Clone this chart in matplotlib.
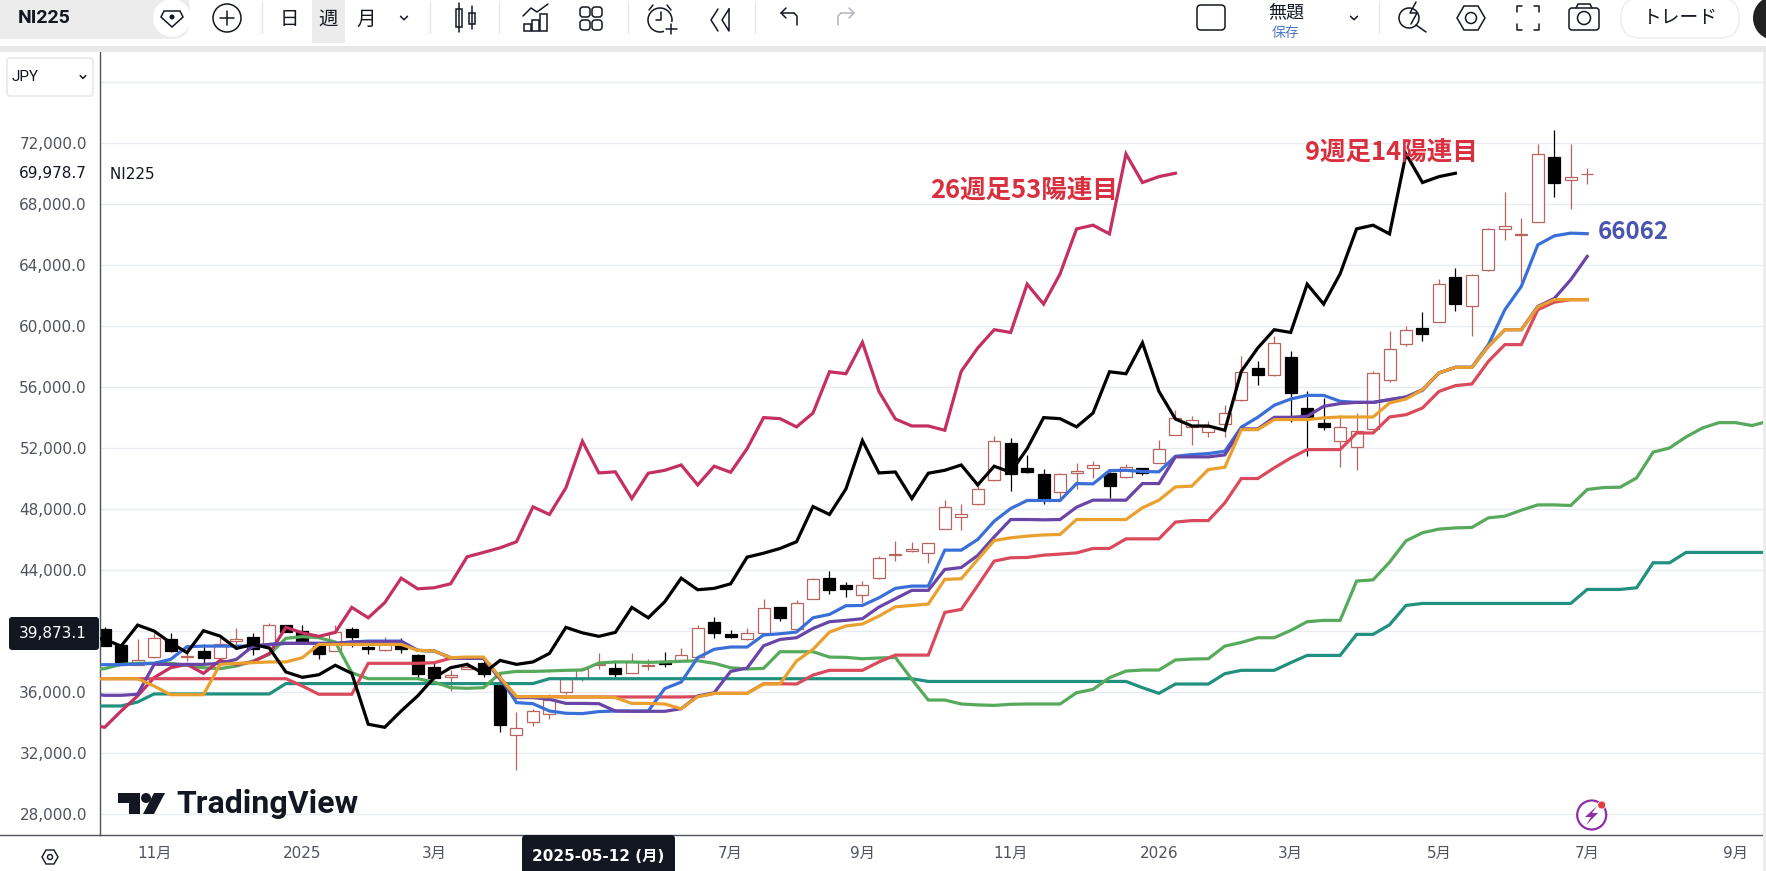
import matplotlib
matplotlib.use("Agg")
import matplotlib.pyplot as plt
import pandas as pd
from matplotlib.patches import Circle, FancyBboxPatch, Polygon, Rectangle

plt.rcParams["font.family"] = ["DejaVu Sans", "Noto Sans CJK JP"]

# weekly bars, first week is only there so the lines start at the pane edge
weeks = pd.date_range("2024-10-07", periods=103, freq="7D")

opens = [40090, 39040, 37770, 38300, 39480, 38280, 38690, 38230, 39320, 39610, 39100, 40350, 40000,
         38990, 38690, 40130, 38950, 38730, 39040, 38380, 37640, 36980, 37510, 37900, 36480, 33160,
         34010, 34560, 35980, 36920, 37780, 37570, 37250, 37680, 38030, 38080, 38290, 40590, 39760,
         39470, 39870, 41570, 40130, 42100, 43480, 43020, 42360, 43450, 44990, 45250, 45110, 46690,
         47480, 48330, 49900, 52350, 50690, 50320, 49090, 50340, 50670, 50360, 50100, 50670, 51020,
         52870, 53380, 53050, 53570, 55120, 57270, 56760, 57970, 54620, 53640, 52460, 52040, 53260,
         56440, 58800, 59870, 60260, 63210, 61310, 63650, 66360, 66000, 66820, 71100, 69620, 69960]
closes = [38990, 37950, 38080, 39520, 38670, 38320, 38190, 39130, 39480, 38780, 40350, 39910, 39210,
          38470, 39910, 39560, 38780, 39100, 38820, 37180, 36900, 37110, 37640, 37180, 33810, 33620,
          34730, 35450, 36850, 37510, 37800, 37160, 37940, 37770, 37810, 38430, 40170, 39820, 39580,
          39850, 41490, 40830, 41810, 43410, 42670, 42730, 42990, 44790, 45020, 45380, 45770, 48110,
          47630, 49310, 52480, 50300, 50400, 48610, 50270, 50490, 50890, 49490, 50730, 50340, 51910,
          53950, 53810, 53360, 54300, 56980, 56810, 58880, 55610, 53970, 53360, 53380, 53120, 56920,
          58490, 59740, 59500, 62730, 61420, 63340, 66360, 66600, 66020, 71280, 69360, 69770, 69978.7]
highs = [40260, 39150, 39480, 39870, 39870, 39040, 39100, 39540, 40150, 39830, 40480, 40350, 40350,
         39150, 40350, 40260, 39320, 39610, 39540, 38450, 37900, 37420, 37950, 38010, 37140, 34690,
         34840, 35870, 36980, 37640, 38510, 37970, 38510, 38120, 38580, 38890, 40350, 40870, 40020,
         40150, 42100, 41570, 42010, 43480, 43890, 43210, 43280, 44900, 45900, 45840, 45770, 48610,
         48350, 49490, 52750, 52660, 51540, 50620, 50360, 51020, 51170, 50400, 50930, 50670, 52530,
         54510, 54080, 53750, 54840, 58010, 57730, 59370, 58380, 55760, 55280, 54190, 54300, 57030,
         59690, 59980, 60940, 63080, 63800, 63410, 66430, 68790, 67080, 71960, 72870, 71960, 70360]
lows = [38990, 37860, 37770, 38230, 38600, 38030, 37900, 38010, 38780, 38400, 38990, 39910, 39100,
        38120, 38670, 38930, 38450, 38670, 38510, 36870, 36850, 36040, 37460, 36960, 33350, 30840,
        33750, 34190, 35830, 36700, 37510, 36960, 37200, 37420, 37620, 38010, 38230, 39520, 39540,
        39370, 39820, 40610, 40090, 42050, 42380, 42190, 41840, 43390, 44570, 45200, 44420, 46650,
        46600, 48280, 49800, 49160, 50340, 48330, 48610, 49310, 50010, 48700, 50050, 50250, 51020,
        52870, 52220, 52700, 52720, 55060, 56150, 56740, 53680, 51450, 53200, 50730, 50580, 53200,
        56300, 58670, 58990, 60240, 60960, 59320, 63610, 65620, 62600, 66800, 68500, 67670, 69330]

blue_line = [37770, 37770, 37770, 37810, 37860, 38120, 38950, 38990, 38990, 38990, 38990, 39100, 39170,
             39170, 39170, 39170, 39260, 39320, 39320, 39320, 38710, 38670, 38230, 38190, 38190, 36920,
             35280, 35210, 34730, 34580, 34560, 34690, 34730, 34730, 34730, 36200, 36630, 38230, 38780,
             38930, 38930, 39720, 39800, 39910, 40850, 41070, 41640, 41660, 42160, 42780, 42930, 42930,
             45290, 45290, 45990, 47190, 48020, 48550, 48550, 48550, 49660, 49640, 50510, 50530, 50450,
             50430, 51450, 51560, 51630, 51780, 53360, 54010, 54800, 55210, 55450, 55450, 55060, 54990,
             54990, 55170, 55340, 55780, 56920, 57290, 57290, 58780, 61070, 62600, 65330, 65920, 66100, 66062]
purple_line = [35890, 35760, 35760, 35830, 37790, 37790, 37790, 37790, 37860, 38120, 38990, 39100, 39170,
               39170, 39170, 39170, 39260, 39280, 39280, 39280, 38710, 38670, 38230, 38190, 38190, 36810,
               35610, 35610, 35500, 35230, 35230, 35210, 34730, 34710, 34710, 34710, 34880, 35720, 35930,
               37330, 37550, 39010, 39430, 39540, 40150, 40590, 40680, 40790, 41550, 42100, 42650, 42650,
               44020, 44150, 44940, 46160, 47300, 47300, 47280, 47300, 48110, 48570, 48570, 48570, 49660,
               49660, 51410, 51410, 51410, 51540, 53250, 53250, 54010, 54010, 54080, 54730, 54910, 54990,
               54990, 55170, 55340, 55820, 56920, 57290, 57290, 58670, 59760, 59760, 61290, 61810, 63040, 64570]
orange_line = [36850, 36850, 36850, 36850, 36370, 35800, 35800, 35800, 37790, 37860, 37900, 37950, 37950,
               38230, 39100, 39100, 39100, 39100, 39100, 39100, 38710, 38670, 38230, 38270, 38270, 36920,
               35670, 35670, 35670, 35650, 35650, 35650, 35610, 35230, 35230, 35190, 34880, 35670, 35890,
               35890, 35890, 36500, 36520, 38010, 38780, 39910, 40310, 40440, 40960, 41570, 41660, 41750,
               43370, 43410, 44680, 45920, 46100, 46210, 46290, 46320, 47300, 47300, 47300, 47300, 48070,
               48570, 49440, 49490, 50580, 50730, 53200, 53200, 53860, 53860, 53860, 53970, 54030, 54030,
               54030, 54950, 55210, 55820, 56920, 57290, 57290, 58670, 59760, 59760, 61250, 61730, 61730, 61730]
red_line = [36850, 36850, 36850, 36850, 36850, 36850, 36850, 36850, 36850, 36850, 36850, 36850, 36850,
            36370, 35830, 35830, 35830, 37860, 37860, 37860, 37860, 37900, 38190, 38190, 38190, 36920,
            35670, 35670, 35670, 35650, 35650, 35650, 35650, 35650, 35650, 35650, 35650, 35670, 35890,
            35890, 35890, 36520, 36520, 36500, 37090, 37400, 37400, 37400, 37950, 38400, 38400, 38400,
            41200, 41400, 42970, 44570, 44790, 44810, 44960, 45030, 45110, 45400, 45400, 46030, 46030,
            46030, 47130, 47230, 47230, 48390, 49990, 49990, 50690, 51340, 51890, 51890, 51890, 52980,
            52980, 54030, 54180, 54620, 55710, 56090, 56200, 57680, 58780, 58780, 61070, 61570, 61730, 61730]
green_line = [37420, 37510, 37790, 37860, 37860, 37860, 37730, 37570, 37510, 37680, 38010, 38450, 39500,
              39610, 39540, 39260, 37250, 36850, 36850, 36850, 36850, 36630, 36260, 36220, 36260, 37200,
              37330, 37330, 37360, 37400, 37420, 37880, 37950, 37950, 37920, 37950, 37990, 38030, 37860,
              37570, 37490, 37530, 38620, 38620, 38620, 38270, 38250, 38160, 38210, 38250, 36810, 35450,
              35450, 35190, 35130, 35100, 35170, 35190, 35190, 35190, 35930, 36150, 36920, 37350, 37420,
              37420, 38080, 38140, 38160, 38990, 39230, 39540, 39540, 40020, 40590, 40680, 40680, 43260,
              43340, 44500, 45900, 46430, 46670, 46750, 46780, 47410, 47520, 47910, 48260, 48260, 48220,
              49270, 49400, 49420, 50030, 51720, 52000, 52720, 53310, 53660, 53660, 53470, 53750]
teal_line = [35060, 35060, 35060, 35320, 35850, 35850, 35850, 35850, 35850, 35850, 35850, 35850, 36530,
             36530, 36530, 36530, 36530, 36530, 36530, 36530, 36530, 36530, 36530, 36530, 36530, 36530,
             36530, 36530, 36850, 36850, 36850, 36850, 36850, 36850, 36850, 36850, 36850, 36850, 36850,
             36850, 36850, 36850, 36850, 36850, 36850, 36850, 36850, 36850, 36850, 36850, 36850, 36670,
             36670, 36670, 36670, 36670, 36670, 36670, 36670, 36670, 36670, 36670, 36670, 36670, 36260,
             35890, 36500, 36500, 36500, 37180, 37400, 37400, 37400, 37900, 38380, 38380, 38380, 39760,
             39760, 40390, 41660, 41790, 41790, 41790, 41790, 41790, 41790, 41790, 41790, 41790, 41790,
             42710, 42710, 42710, 42820, 44460, 44460, 45140, 45140, 45140, 45140, 45140, 45140]
pink_line = [33860, 33660, 34730, 35720, 36920, 37570, 37790, 37200, 38050, 37790, 37950, 38510, 40220,
             39860, 39630, 39890, 41530, 40850, 41840, 43450, 42750, 42820, 43080, 44850, 45140, 45440,
             45840, 48130, 47630, 49380, 52440, 50360, 50430, 48680, 50340, 50530, 50880, 49570, 50800,
             50400, 51950, 53990, 53920, 53380, 54290, 57000, 56870, 58930, 55710, 53900, 53440, 53440,
             53160, 57030, 58560, 59760, 59580, 62750, 61440, 63430, 66380, 66620, 66050, 71300, 69420,
             69810, 70030]
black_line = [39600, 39430, 38990, 40370, 39980, 39210, 38560, 40000, 39650, 38840, 39100, 38860, 37290,
              36940, 37110, 37730, 37200, 33860, 33660, 34730, 35720, 36920, 37570, 37790, 37200, 38050,
              37790, 37950, 38510, 40220, 39860, 39630, 39890, 41530, 40850, 41900, 43450, 42690, 42780,
              43080, 44830, 45090, 45400, 45840, 48150, 47630, 49310, 52480, 50360, 50420, 48680, 50340,
              50530, 50880, 49570, 50800, 50400, 51950, 53990, 53920, 53380, 54290, 57000, 56870, 58900,
              55710, 53900, 53440, 53440, 53160, 57030, 58560, 59760, 59580, 62750, 61440, 63430, 66380,
              66620, 66050, 71300, 69420, 69810, 70030]

price_ticks = list(range(28000, 76000, 4000))
date_ticks = ["2024-11-04", "2025-01-06", "2025-03-03", "2025-07-07", "2025-09-01",
              "2025-11-03", "2026-01-05", "2026-03-02", "2026-05-04", "2026-07-06", "2026-09-07"]
date_labels = ["11月", "2025", "3月", "7月", "9月", "11月", "2026", "3月", "5月", "7月", "9月"]

W, H = 1766, 871
fig = plt.figure(figsize=(W / 100, H / 100), dpi=100, facecolor="white")
ax = fig.add_axes([99.5 / W, (H - 835) / H, (1763 - 99.5) / W, (835 - 52) / H])

# candles
candle_x = weeks[1:]
hollow_col = "#b9655f"
for x, o, c, h, l in zip(candle_x, opens, closes, highs, lows):
    up = c >= o
    col = hollow_col if up else "black"
    ax.vlines(x, l, h, color=col, lw=0.9, zorder=2)
    ax.bar(x, abs(c - o), bottom=min(o, c), width=pd.Timedelta(days=5.1),
           facecolor="white" if up else "black", edgecolor=col, linewidth=0.9, zorder=2.5)

# lines, bottom one first
line_styles = [(teal_line, "#22907f"), (green_line, "#57a95b"), (pink_line, "#c4305f"),
               (red_line, "#d94b5c"), (blue_line, "#3b6fd8"), (purple_line, "#6a45a8"),
               (orange_line, "#e9a02e"), (black_line, "black")]
for vals, col in line_styles:
    ax.plot(weeks[:len(vals)], vals, color=col, lw=2.3, solid_joinstyle="miter", zorder=3)

ax.set_xlim(pd.Timestamp("2024-10-14") - pd.Timedelta(days=2.2), pd.Timestamp("2024-10-14") + pd.Timedelta(days=704.7))
ax.set_ylim(26590, 77990)
ax.set_yticks(price_ticks + [76000])
ax.set_yticklabels([f"{v:,.1f}" for v in price_ticks] + [""], fontsize=11, color="#50535e")
ax.set_xticks(pd.to_datetime(date_ticks))
ax.set_xticklabels(date_labels, fontsize=11, color="#50535e")
ax.tick_params(axis="y", length=0, pad=9)
ax.tick_params(axis="x", length=0, pad=8)
ax.grid(axis="y", color="#e8ecf0", lw=1)
ax.set_axisbelow(True)
for side in ["top", "right"]:
    ax.spines[side].set_visible(False)
for side in ["left", "bottom"]:
    ax.spines[side].set_color("#50535e")
    ax.spines[side].set_linewidth(1)

ax.text(pd.Timestamp("2024-10-14"), 69978.7, " NI225", fontsize=11, color="#131722", va="center", zorder=5)

# everything below is drawn in pixels of the screenshot
ov = fig.add_axes([0, 0, 1, 1], zorder=10)
ov.set_xlim(0, W)
ov.set_ylim(H, 0)
ov.axis("off")
ov.patch.set_visible(False)

ink = "#131722"


def seg(xs, ys, col=ink, lw=1.1):
    ov.plot(xs, ys, color=col, lw=lw, solid_capstyle="round", solid_joinstyle="round")


def chevron(x, y, size=3.5, col=ink):
    seg([x - size, x, x + size], [y - size / 2, y + size / 2, y - size / 2], col)


def round_box(x, y, w, h, r, face="white", edge="none", lw=1):
    ov.add_patch(FancyBboxPatch((x + r, y + r), w - 2 * r, h - 2 * r, boxstyle=f"round,pad={r}",
                                facecolor=face, edgecolor=edge, lw=lw))


# toolbar
ov.add_patch(Rectangle((0, 46), W, 6, facecolor="#e8e8e8", edgecolor="none"))
round_box(-20, -10, 210, 49, 19, face="#ececec")
ov.text(18, 18, "NI225", fontsize=14, fontweight="bold", color=ink, va="center", family="Roboto")
ov.add_patch(Circle((172, 18), 19, facecolor="white", edgecolor="none"))
ov.add_patch(Polygon([(164, 11), (180, 11), (183, 17), (172, 27), (161, 17)], closed=True, facecolor="none", edgecolor=ink, lw=1.1))
ov.add_patch(Circle((172, 17), 2.5, facecolor=ink, edgecolor="none"))
ov.add_patch(Circle((227, 18), 14, facecolor="none", edgecolor=ink, lw=1.1))
seg([220, 234], [18, 18])
seg([227, 227], [11, 25])
for sx in [262, 430, 499, 628, 754.5, 1379]:
    seg([sx, sx], [2, 33], "#e6e6e6", 1)
ov.add_patch(Rectangle((312, 0), 33, 43, facecolor="#ececec", edgecolor="none"))
for sx, label in [(289, "日"), (328, "週"), (366, "月")]:
    ov.text(sx, 19, label, fontsize=14, color=ink, ha="center", va="center", family="Noto Sans CJK JP")
chevron(404, 18)
# candle icon
seg([459, 459], [3, 32])
ov.add_patch(Rectangle((456, 9), 6, 18, facecolor="white", edgecolor=ink, lw=1.1))
seg([472, 472], [6, 29])
ov.add_patch(Rectangle((469, 13), 6, 11, facecolor="white", edgecolor=ink, lw=1.1))
# indicators icon
seg([523, 531, 537, 548], [16, 8, 12, 4])
for bx, bt in [(524, 24), (532, 20), (540, 14)]:
    ov.add_patch(Rectangle((bx, bt), 7, 31 - bt, facecolor="none", edgecolor=ink, lw=1.1))
# layouts icon
for bx in [580, 592]:
    for by in [7, 20]:
        round_box(bx, by, 10, 10, 3, face="none", edge=ink, lw=1.1)
# alarm
ov.add_patch(Circle((660, 20), 12, facecolor="none", edgecolor=ink, lw=1.1))
seg([661, 661, 656], [12, 20, 20])
seg([649, 653], [10, 5])
seg([671, 667], [10, 5])
ov.add_patch(Rectangle((664, 22), 15, 15, facecolor="white", edgecolor="none"))
seg([671, 671], [24, 34])
seg([666, 677], [29, 29])
# replay
seg([718, 711, 718], [9, 20, 31])
seg([729, 722, 729, 729, 729], [9, 20, 31, 31, 9])
seg([718, 729], [9, 9], "white", 0.1)
# undo, redo
seg([794, 781, 786], [13, 13, 8])
seg([781, 786], [13, 18])
seg([794, 797, 797], [13, 16, 25])
seg([841, 854, 849], [13, 13, 8], "#b2b5be")
seg([854, 849], [13, 18], "#b2b5be")
seg([841, 838, 838], [13, 16, 25], "#b2b5be")

round_box(1197, 5, 28, 25, 4, face="white", edge=ink, lw=1.1)
ov.text(1286, 12, "無題", fontsize=13, color=ink, ha="center", va="center", family="Noto Sans CJK JP")
ov.text(1286, 33, "保存", fontsize=10, color="#4c78c8", ha="center", va="center", family="Noto Sans CJK JP")
chevron(1354, 18)
# lens
ov.add_patch(Circle((1409, 18), 10, facecolor="none", edgecolor=ink, lw=1.1))
seg([1416, 1426], [25, 32])
seg([1416, 1410, 1417, 1411], [2, 13, 13, 24])
# hex
ov.add_patch(Polygon([(1457, 18), (1464, 6), (1478, 6), (1485, 18), (1478, 30), (1464, 30)], closed=True, facecolor="none", edgecolor=ink, lw=1.1))
ov.add_patch(Circle((1471, 18), 5.5, facecolor="none", edgecolor=ink, lw=1.1))
# fullscreen corners
seg([1522, 1517, 1517], [6, 6, 12])
seg([1534, 1539, 1539], [6, 6, 12])
seg([1517, 1517, 1522], [24, 30, 30])
seg([1539, 1539, 1534], [24, 30, 30])
# camera
round_box(1569, 8, 30, 22, 3, face="white", edge=ink, lw=1.1)
seg([1576, 1578, 1590, 1592], [8, 4, 4, 8])
ov.add_patch(Circle((1584, 18), 6.5, facecolor="none", edgecolor=ink, lw=1.1))
round_box(1621, -2, 118, 40, 19, face="white", edge="#ececec", lw=1)
ov.text(1680, 18, "トレード", fontsize=13.5, color=ink, ha="center", va="center", family="Noto Sans CJK JP")
ov.add_patch(Circle((1775, 18), 22, facecolor="#222222", edgecolor="none"))

# currency box and price labels
round_box(7, 58, 86, 38, 3, face="white", edge="#e0e3eb")
ov.text(12, 77, "JPY", fontsize=11, color=ink, va="center", family="Roboto")
chevron(83, 77, 2.8)
ov.text(87, 174, "69,978.7", fontsize=11, color=ink, ha="right", va="center")
round_box(9, 617, 90, 33, 3, face=ink)
ov.text(87, 633.5, "39,873.1", fontsize=11, color="white", ha="right", va="center")

# crosshair date
round_box(522, 835, 153, 42, 4, face=ink)
ov.text(598, 856, "2025-05-12 (月)", fontsize=11, color="white", ha="center", va="center", fontweight="bold")
ov.add_patch(Polygon([(42, 857), (46, 850), (54, 850), (58, 857), (54, 864), (46, 864)], closed=True, facecolor="none", edgecolor=ink, lw=1))
ov.add_patch(Circle((50, 857), 2.5, facecolor="none", edgecolor=ink, lw=1))
ov.plot([0, 99.5], [835, 835], color="#50535e", lw=1)

# notes written on the chart
ov.text(930, 190, "26週足53陽連目", fontsize=18.4, fontweight="bold", color="#d8303f", va="center", family="Noto Sans CJK JP")
ov.text(1305, 152, "9週足14陽連目", fontsize=18.4, fontweight="bold", color="#d8303f", va="center", family="Noto Sans CJK JP")
ov.text(1598, 232, "66062", fontsize=17.3, fontweight="bold", color="#4a55b0", va="center", family="Noto Sans CJK JP")

# TradingView mark
ov.add_patch(Polygon([(118, 793), (140, 793), (140, 814), (129, 814), (129, 803), (118, 803)], closed=True, facecolor=ink, edgecolor="none"))
ov.add_patch(Circle((146, 798), 5, facecolor=ink, edgecolor="none"))
ov.add_patch(Polygon([(154, 793), (165, 793), (154, 814), (143, 814)], closed=True, facecolor=ink, edgecolor="none"))
ov.text(176, 804, "TradingView", fontsize=23, fontweight="bold", color=ink, va="center", family="Roboto")

# bolt badge
ov.add_patch(Circle((1591.7, 815), 14.5, facecolor="white", edgecolor="#8e2ea8", lw=1.6))
ov.add_patch(Polygon([(1597, 806), (1585, 817), (1591, 817), (1586, 825), (1598, 813), (1592, 813)], closed=True, facecolor="#8e2ea8", edgecolor="none"))
ov.add_patch(Circle((1601.7, 805), 4, facecolor="#e23d45", edgecolor="white", lw=0.5))

# right edge of the pane
ov.add_patch(Rectangle((1763, 52), 3, H - 52, facecolor="#ececec", edgecolor="none"))

fig.savefig("out.png", dpi=100)
